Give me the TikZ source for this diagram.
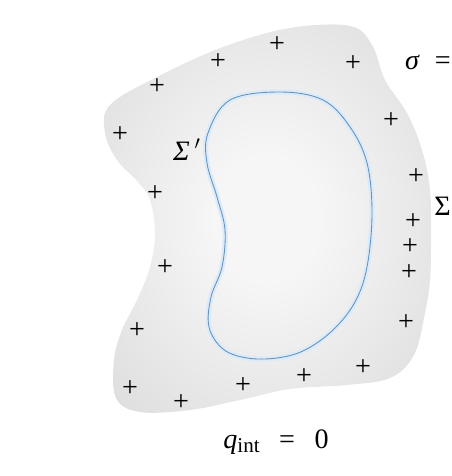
\documentclass[tikz,border=0pt]{standalone}
\usepackage{fontspec}
\setmainfont{Liberation Serif}
\usepackage{xcolor}
\usetikzlibrary{positioning}
\definecolor{blobedge}{RGB}{214, 214, 214}
\definecolor{blobmid}{RGB}{246, 246, 246}
\definecolor{gausslineblue}{RGB}{100, 146, 194}
\definecolor{gaussglow}{RGB}{220, 235, 247}
\pgfdeclareradialshading{blobshade}{\pgfpoint{0bp}{0bp}}{color(0bp)=(blobmid); color(8bp)=(blobmid); color(42bp)=(blobedge); color(60bp)=(blobedge)}

\begin{document}
\begin{tikzpicture}[x=0.02cm, y=-0.02cm,
  charge/.style={inner sep=0pt, font=\fontsize{16}{16}\selectfont},
  label/.style={inner sep=0pt, font=\fontsize{16}{18}\selectfont}]
  \useasboundingbox (0,0) rectangle (452,476);
  \clip (0,0) rectangle (452,476);

  % conductor
  \shade[shading=blobshade] plot[smooth cycle, tension=0.6] coordinates {
    (157,77) (223,47) (290,28) (350,26) (372,45) (385,80) (407,113)
    (422,150) (430,190) (431,240) (430,280) (425,313) (414,355) (390,378)
    (347,385) (290,389) (240,400) (190,410) (140,412) (116,398) (114,360)
    (122,330) (137,300) (150,267) (155,233) (150,200) (138,182) (117,160)
    (105,133) (110,105)};

  % gaussian surface
  \draw[gaussglow, line width=3pt] plot[smooth cycle, tension=0.6] coordinates {
    (280,92) (323,100) (350,127) (367,163) (372,213) (367,267) (355,302)
    (333,330) (305,350) (277,358) (247,358) (223,349) (209,327) (211,297)
    (222,267) (225,230) (217,197) (207,163) (208,133) (230,100)};
  \draw[gausslineblue, line width=0.5pt] plot[smooth cycle, tension=0.6] coordinates {
    (280,92) (323,100) (350,127) (367,163) (372,213) (367,267) (355,302)
    (333,330) (305,350) (277,358) (247,358) (223,349) (209,327) (211,297)
    (222,267) (225,230) (217,197) (207,163) (208,133) (230,100)};

  % surface charges
  \foreach \px/\py [count=\i] in {277/45, 218/62, 353/64, 157/87, 120/135,
    391/121, 155/194, 416/177, 413/222, 165/268, 410/247, 409/273,
    137/331, 406/323, 130/389, 181/403, 243/386, 304/377, 363/368}
    \node[charge] (plus\i) at (\px,\py) {+};

  \node[label] (sigmap) at (187,150) {\textit{Σ}\,$'$};
  \node[label, anchor=east] (sigma) at (451,206) {Σ};
  \node[label, anchor=east] (density) at (451,62) {\textit{σ}\; =};
  \node[label] (qint) at (276,442) {\textit{q}\raisebox{-0.35ex}{\fontsize{12}{12}\selectfont int}\;\, =\;\, 0};
\end{tikzpicture}
\end{document}
